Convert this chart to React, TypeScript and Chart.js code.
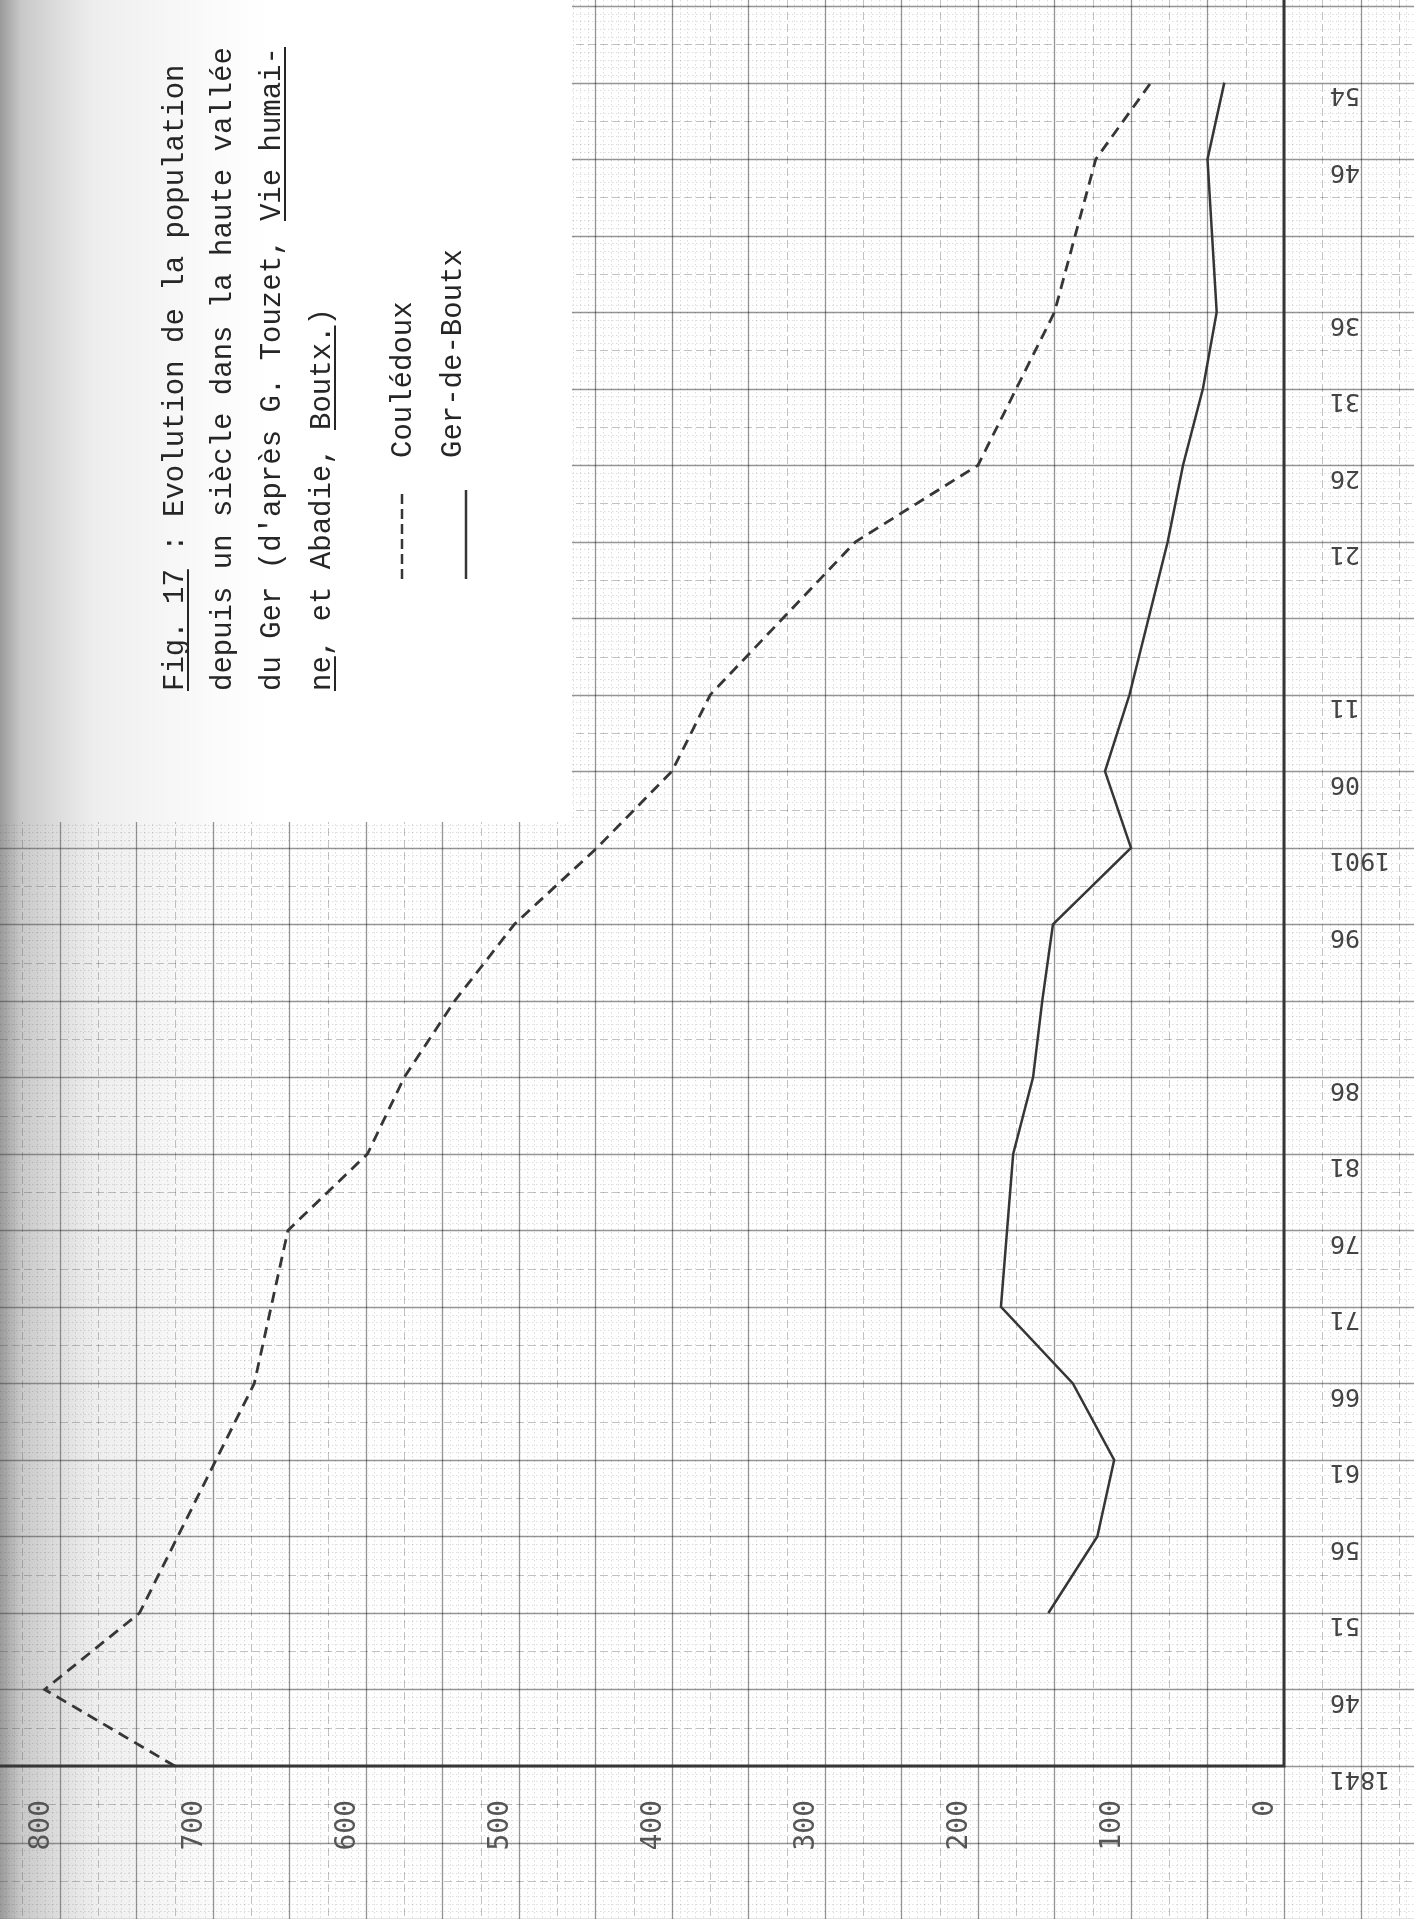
import React, { useEffect, useRef } from 'react';
import { Chart, registerables } from 'chart.js';

Chart.register(...registerables);

const W = 1414;
const H = 1919;

// Census years as they are placed on the year axis of the source figure
// (the 1954 census is drawn on the 1951 grid line there).
const censusPlotYears = [1841, 1846, 1851, 1856, 1861, 1866, 1871, 1876, 1881, 1886, 1891, 1896, 1901, 1906, 1911, 1921, 1926, 1931, 1936, 1946, 1951];
const couledoux = [725, 810, 748, 723, 698, 673, 662, 651, 599, 575, 542, 503, 449, 400, 375, 280, 200, 175, 150, 123, 87];
const gerDeBoutx = [null, null, 154, 122, 111, 138, 185, 181, 177, 164, 158, 151, 100, 117, 101, 76, 66, 53, 44, 50, 39];

const yearTickPositions = [1841, 1846, 1851, 1856, 1861, 1866, 1871, 1876, 1881, 1886, 1896, 1901, 1906, 1911, 1921, 1926, 1931, 1936, 1946, 1951];
const yearTickLabels = ['1841', '46', '51', '56', '61', '66', '71', '76', '81', '86', '96', '1901', '06', '11', '21', '26', '31', '36', '46', '54'];

const popTicks = [0, 100, 200, 300, 400, 500, 600, 700, 800];
const popTickLabels = ['0', '100', '200', '300', '400', '500', '600', '700', '800'];

const titleLines = [
  'Fig. 17 : Evolution de la population',
  'depuis un siècle dans la haute vallée',
  "du Ger (d'après G. Touzet, Vie humai-",
  'ne, et Abadie, Boutx.)',
];
// [line, fromChar, toChar]
const titleUnderlines = [
  [0, 0, 7],
  [2, 27, 37],
  [3, 0, 2],
  [3, 15, 21],
];
const seriesNames = ['Coulédoux', 'Ger-de-Boutx'];

// layout (pixels)
const BLANK_W = 572;
const BLANK_H = 822;
const INK = '#363636';

function toPoints(values: (number | null)[]) {
  const pts: { x: number; y: number }[] = [];
  values.forEach((v, i) => {
    if (v !== null) pts.push({ x: v, y: censusPlotYears[i] });
  });
  return pts;
}

function gridStyle(ctx: CanvasRenderingContext2D, kind: number) {
  if (kind === 2) {
    ctx.strokeStyle = 'rgba(0,0,0,0.42)';
    ctx.lineWidth = 1.3;
    ctx.setLineDash([]);
  } else if (kind === 1) {
    ctx.strokeStyle = 'rgba(0,0,0,0.24)';
    ctx.lineWidth = 1;
    ctx.setLineDash([8, 4]);
  } else {
    ctx.strokeStyle = 'rgba(0,0,0,0.13)';
    ctx.lineWidth = 1;
    ctx.setLineDash([1.5, 2.5]);
  }
}

const paperPlugin = {
  id: 'paper',
  beforeDatasetsDraw(chart: any) {
    const { ctx } = chart;
    const xs = chart.scales.x;
    const ys = chart.scales.y;
    ctx.save();
    ctx.fillStyle = '#ffffff';
    ctx.fillRect(0, 0, W, H);

    ctx.beginPath();
    ctx.rect(0, 0, W, H);
    ctx.rect(0, 0, BLANK_W, BLANK_H);
    ctx.clip('evenodd');

    const vA = xs.getValueForPixel(W);
    const vB = xs.getValueForPixel(0);
    const vMin = Math.floor(Math.min(vA, vB) / 5) * 5;
    const vMax = Math.ceil(Math.max(vA, vB) / 5) * 5;
    const tA = ys.getValueForPixel(H);
    const tB = ys.getValueForPixel(0);
    const kMin = Math.floor(Math.min(tA, tB) * 2);
    const kMax = Math.ceil(Math.max(tA, tB) * 2);
    for (let kind = 0; kind <= 2; kind++) {
      // vertical lines: every 5 inhabitants (1 mm)
      for (let v = vMin; v <= vMax; v += 5) {
        const k = v % 50 === 0 ? 2 : v % 25 === 0 ? 1 : 0;
        if (k !== kind) continue;
        gridStyle(ctx, k);
        const px = Math.round(xs.getPixelForValue(v)) + 0.5;
        ctx.beginPath();
        ctx.moveTo(px, 0);
        ctx.lineTo(px, H);
        ctx.stroke();
      }
      // horizontal lines: every half year (1 mm)
      for (let q = kMin; q <= kMax; q++) {
        const d = q - 2 * 1841;
        const k = d % 10 === 0 ? 2 : d % 5 === 0 ? 1 : 0;
        if (k !== kind) continue;
        gridStyle(ctx, k);
        const py = Math.round(ys.getPixelForValue(q / 2)) + 0.5;
        ctx.beginPath();
        ctx.moveTo(0, py);
        ctx.lineTo(W, py);
        ctx.stroke();
      }
    }
    ctx.restore();

    // scanner shadow on the left edge
    ctx.save();
    const g = ctx.createLinearGradient(0, 0, 270, 0);
    g.addColorStop(0, 'rgba(70,70,70,0.55)');
    g.addColorStop(0.08, 'rgba(90,90,90,0.33)');
    g.addColorStop(0.35, 'rgba(120,120,120,0.13)');
    g.addColorStop(1, 'rgba(160,160,160,0)');
    ctx.fillStyle = g;
    ctx.fillRect(0, 0, 270, H);
    ctx.restore();

    // heavy axes
    ctx.save();
    const x0 = xs.getPixelForValue(0);
    const yB = ys.getPixelForValue(1841);
    const yT = ys.getPixelForValue(ys.max);
    ctx.strokeStyle = INK;
    ctx.lineWidth = 3;
    ctx.setLineDash([]);
    ctx.beginPath();
    ctx.moveTo(x0, yT);
    ctx.lineTo(x0, yB);
    ctx.lineTo(0, yB);
    ctx.stroke();
    ctx.restore();
  },
};

const textPlugin = {
  id: 'texts',
  afterDatasetsDraw(chart: any) {
    const { ctx } = chart;
    const xs = chart.scales.x;
    const ys = chart.scales.y;

    // year labels (upside down)
    ctx.save();
    ctx.font = '25px "DejaVu Sans Mono"';
    ctx.fillStyle = '#444';
    yearTickPositions.forEach((t, i) => {
      const py = ys.getPixelForValue(t) + 12;
      ctx.save();
      ctx.translate(1330, py);
      ctx.rotate(Math.PI);
      ctx.textAlign = 'right';
      ctx.textBaseline = 'middle';
      ctx.fillText(yearTickLabels[i], 0, 0);
      ctx.restore();
    });
    ctx.restore();

    // population labels (reading upwards)
    ctx.save();
    ctx.font = '28px "DejaVu Sans Mono"';
    ctx.fillStyle = '#555';
    popTicks.forEach((v, i) => {
      const px = xs.getPixelForValue(v) - 18;
      ctx.save();
      ctx.translate(px, 1800);
      ctx.rotate(-Math.PI / 2);
      ctx.textAlign = 'right';
      ctx.textBaseline = 'middle';
      ctx.fillText(popTickLabels[i], 0, 0);
      ctx.restore();
    });
    ctx.restore();

    // title
    ctx.save();
    ctx.font = '29px "Liberation Mono"';
    ctx.fillStyle = '#262626';
    ctx.strokeStyle = '#262626';
    const titleBase = [183, 231, 280, 330];
    titleLines.forEach((s, i) => {
      ctx.save();
      ctx.translate(titleBase[i], 691);
      ctx.rotate(-Math.PI / 2);
      ctx.textAlign = 'left';
      ctx.textBaseline = 'alphabetic';
      ctx.fillText(s, 0, 0);
      titleUnderlines.forEach(([ln, a, b]) => {
        if (ln !== i) return;
        const x1 = ctx.measureText(s.slice(0, a)).width;
        const x2 = ctx.measureText(s.slice(0, b)).width;
        ctx.lineWidth = 2;
        ctx.beginPath();
        ctx.moveTo(x1, 5);
        ctx.lineTo(x2, 5);
        ctx.stroke();
      });
      ctx.restore();
    });

    // legend
    const ds = chart.data.datasets;
    ctx.lineWidth = 2.5;
    ctx.strokeStyle = ds[0].borderColor;
    ctx.setLineDash([10, 5]);
    ctx.beginPath();
    ctx.moveTo(402, 579);
    ctx.lineTo(402, 490);
    ctx.stroke();
    ctx.strokeStyle = ds[1].borderColor;
    ctx.setLineDash([]);
    ctx.beginPath();
    ctx.moveTo(466, 579);
    ctx.lineTo(466, 490);
    ctx.stroke();
    [[411, seriesNames[0]], [461, seriesNames[1]]].forEach(([bx, s]) => {
      ctx.save();
      ctx.translate(bx as number, 458);
      ctx.rotate(-Math.PI / 2);
      ctx.textAlign = 'left';
      ctx.textBaseline = 'alphabetic';
      ctx.fillText(s as string, 0, 0);
      ctx.restore();
    });
    ctx.restore();
  },
};

export default function App() {
  const ref = useRef<HTMLCanvasElement | null>(null);

  useEffect(() => {
    document.body.style.margin = '0';
    const canvas = ref.current;
    if (!canvas) return;
    const chart = new Chart(canvas, {
      type: 'scatter',
      data: {
        datasets: [
          {
            label: seriesNames[0],
            data: toPoints(couledoux),
            showLine: true,
            borderColor: INK,
            borderWidth: 2.8,
            borderDash: [11, 7],
            pointRadius: 0,
            fill: false,
            tension: 0,
          },
          {
            label: seriesNames[1],
            data: toPoints(gerDeBoutx),
            showLine: true,
            borderColor: INK,
            borderWidth: 2.5,
            pointRadius: 0,
            fill: false,
            tension: 0,
          },
        ],
      } as any,
      options: {
        responsive: false,
        maintainAspectRatio: false,
        animation: false,
        layout: { padding: { left: 0, top: 0, right: 130, bottom: 153 } },
        scales: {
          x: { type: 'linear', reverse: true, min: 0, max: 839.2, display: false },
          y: { type: 'linear', min: 1841, max: 1956.4, display: false },
        },
        plugins: {
          legend: { display: false },
          tooltip: { enabled: false },
        },
      },
      plugins: [paperPlugin, textPlugin],
    });
    return () => chart.destroy();
  }, []);

  return (
    <div style={{ position: 'absolute', left: 0, top: 0, width: W, height: H, overflow: 'hidden', background: '#fff' }}>
      <canvas ref={ref} width={W} height={H} style={{ display: 'block', width: W, height: H }} />
    </div>
  );
}
